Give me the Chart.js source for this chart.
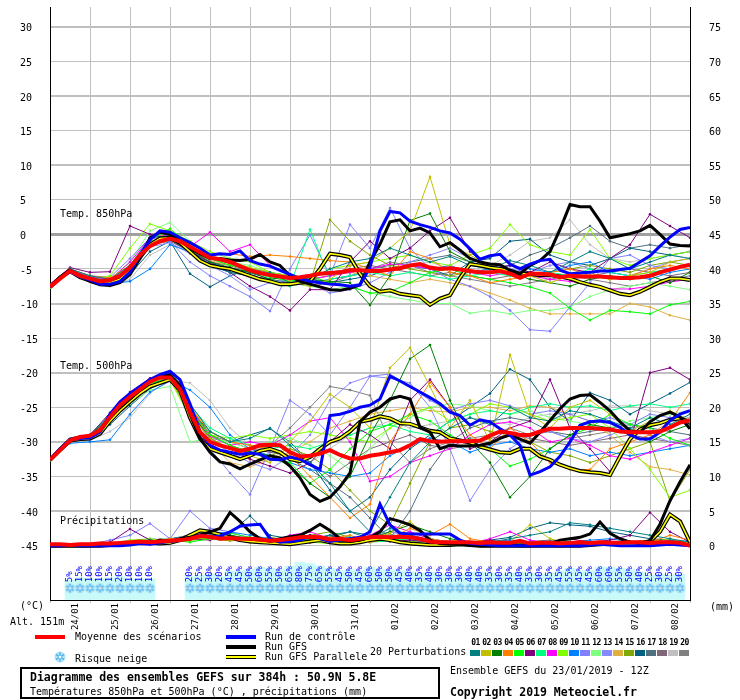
<!DOCTYPE html>
<html><head><meta charset="utf-8">
<script src="https://cdn.jsdelivr.net/npm/chart.js@4.4.1/dist/chart.umd.min.js"></script>
<style>
body{margin:0;background:#fff}
#wrap{position:relative;width:740px;height:700px;overflow:hidden;background:#fff}
#c{position:absolute;left:0;top:0}
.t{position:absolute;font-family:"DejaVu Sans Mono",monospace;font-size:10px;line-height:12px;white-space:nowrap;color:#000}
.b{font-weight:bold;font-size:11.5px;line-height:14px}
.sw{position:absolute}
</style></head><body>
<div id="wrap">
<canvas id="c" width="740" height="700"></canvas>
<div class="t" style="left:60px;top:208px">Temp. 850hPa</div>
<div class="t" style="left:60px;top:360px">Temp. 500hPa</div>
<div class="t" style="left:60px;top:515px">Précipitations</div>
<div class="t" style="left:20px;top:600px">(°C)</div>
<div class="t" style="left:10px;top:616px">Alt. 151m</div>
<div class="t" style="left:710px;top:601px">(mm)</div>
<div class="sw" style="left:35px;top:635px;width:30px;height:4px;background:#ff0000"></div>
<div class="t" style="left:75px;top:631px">Moyenne des scénarios</div>
<canvas id="legFlake" class="sw" width="12" height="12" style="left:54px;top:651px"></canvas>
<div class="t" style="left:75px;top:653px">Risque neige</div>
<div class="sw" style="left:226px;top:635px;width:30px;height:4px;background:#0000ff"></div>
<div class="t" style="left:265px;top:631px">Run de contrôle</div>
<div class="sw" style="left:226px;top:645px;width:30px;height:4px;background:#000"></div>
<div class="t" style="left:265px;top:641px">Run GFS</div>
<div class="sw" style="left:226px;top:655px;width:30px;height:4px;background:#000"></div>
<div class="sw" style="left:226px;top:656px;width:30px;height:2px;background:#ffff00"></div>
<div class="t" style="left:265px;top:651px">Run GFS Parallele</div>
<div class="t" style="left:370px;top:646px">20 Perturbations</div>
<div class="sw" style="left:20px;top:667px;width:416px;height:28px;border:2px solid #000"></div>
<div class="t b" style="left:30px;top:670px">Diagramme des ensembles GEFS sur 384h : 50.9N 5.8E</div>
<div class="t" style="left:30px;top:686px">Températures 850hPa et 500hPa (°C) , précipitations (mm)</div>
<div class="t" style="left:450px;top:665px">Ensemble GEFS du 23/01/2019 - 12Z</div>
<div class="t b" style="left:450px;top:685px">Copyright 2019 Meteociel.fr</div>
</div>
<script>
// ---------- DATA ----------
const HOURS = 384; // 23/01 12Z + 384h, first value at hour 0
const dateLabels = ['24/01','25/01','26/01','27/01','28/01','29/01','30/01','31/01','01/02','02/02','03/02','04/02','05/02','06/02','07/02','08/02'];
const tempTicks = [-45,-40,-35,-30,-25,-20,-15,-10,-5,0,5,10,15,20,25,30];
const precipTicks = [0,5,10,15,20,25,30,35,40,45,50,55,60,65,70,75];

// 6-hourly main runs (65 values)
const mean850 = [-7.6,-6.4,-5.3,-6.0,-6.4,-6.8,-6.6,-6.0,-4.8,-3.0,-1.7,-1.0,-0.6,-1.0,-1.8,-2.6,-3.4,-3.6,-4.0,-4.6,-5.2,-5.6,-5.9,-6.1,-6.3,-6.2,-6.0,-5.7,-5.6,-5.5,-5.2,-5.2,-5.3,-5.3,-5.1,-4.9,-4.5,-4.3,-4.8,-5.0,-4.9,-5.1,-5.3,-5.5,-5.5,-5.3,-5.7,-6.3,-5.7,-5.7,-5.8,-6.2,-6.0,-6.1,-6.1,-6.1,-6.2,-6.3,-6.3,-6.2,-6.0,-5.5,-5.1,-4.7,-4.4];
const ctrl850 = [-7.6,-6.3,-5.4,-6.1,-6.6,-7.2,-7.2,-6.8,-5.5,-3.0,-0.8,0.5,0.3,-0.5,-1.2,-2.0,-3.0,-2.8,-2.9,-2.4,-3.8,-4.3,-4.6,-5.2,-5.8,-6.4,-6.8,-7.0,-7.2,-7.3,-7.5,-7.3,-4.8,0.5,3.3,3.1,1.9,1.4,1.0,0.5,0.2,-0.7,-2.1,-3.6,-3.1,-2.9,-4.3,-5.0,-4.3,-3.8,-3.6,-5.2,-5.7,-5.6,-5.5,-5.3,-5.3,-5.1,-4.9,-4.0,-3.1,-1.7,-0.4,0.7,1.0];
const gfs850 = [-7.6,-6.2,-5.2,-6.0,-6.8,-7.3,-7.4,-7.0,-5.8,-3.5,-0.5,0.3,0.0,-0.8,-2.0,-2.8,-3.5,-3.5,-3.7,-3.8,-3.6,-2.9,-4.0,-4.5,-6.0,-6.8,-7.2,-7.6,-8.0,-8.1,-7.8,-7.3,-4.0,-1.4,1.8,2.1,0.5,0.9,0.2,-1.8,-1.2,-2.3,-3.5,-4.0,-4.3,-4.4,-5.2,-5.7,-4.5,-3.8,-2.5,0.7,4.3,4.0,4.0,1.9,-0.5,-0.2,0.1,0.5,1.3,0.0,-1.4,-1.6,-1.7];
const par850 = [-7.6,-6.3,-5.3,-6.2,-6.7,-7.1,-7.0,-6.5,-5.0,-3.3,-1.5,-0.6,-0.5,-1.2,-2.5,-3.8,-4.5,-4.8,-5.0,-5.5,-6.0,-6.5,-6.8,-7.2,-7.2,-7.0,-6.8,-5.0,-2.8,-3.0,-3.3,-5.7,-7.5,-8.3,-8.1,-8.6,-8.8,-9.0,-10.2,-9.3,-8.8,-6.3,-4.3,-4.5,-4.8,-5.0,-5.3,-5.7,-5.7,-5.9,-5.9,-6.1,-6.4,-6.9,-7.3,-7.6,-8.1,-8.6,-8.8,-8.3,-7.6,-6.9,-6.4,-6.4,-6.6];
const mean500 = [-32.6,-31.2,-29.8,-29.3,-29.1,-28.3,-26.4,-24.7,-23.5,-22.4,-21.3,-20.7,-20.7,-22.4,-25.7,-28.6,-30.0,-30.5,-30.9,-31.3,-31.0,-30.5,-30.4,-30.5,-31.5,-32.1,-32.0,-31.7,-31.2,-31.9,-32.4,-32.4,-32.0,-31.8,-31.5,-31.2,-30.5,-29.6,-29.9,-30.0,-29.9,-29.9,-29.9,-29.8,-29.1,-28.5,-28.7,-29.0,-29.0,-28.5,-28.1,-28.1,-28.0,-28.0,-28.0,-28.1,-28.2,-28.5,-28.6,-28.6,-28.6,-28.5,-27.9,-27.2,-26.9];
const ctrl500 = [-32.6,-31.0,-29.7,-29.5,-29.4,-28.6,-26.0,-24.2,-23.0,-22.0,-21.0,-20.3,-19.8,-21.0,-24.5,-28.5,-30.5,-31.2,-31.5,-31.8,-31.6,-31.8,-32.5,-32.6,-32.2,-32.5,-33.3,-34.0,-26.2,-26.0,-25.6,-25.0,-24.7,-23.8,-20.5,-21.2,-22.0,-22.8,-23.6,-24.5,-25.7,-26.2,-27.6,-26.8,-27.1,-28.1,-29.0,-30.5,-34.8,-34.3,-33.6,-32.1,-30.0,-27.6,-27.1,-27.0,-27.2,-27.9,-29.0,-29.6,-29.6,-28.6,-26.9,-26.0,-25.5];
const gfs500 = [-32.6,-31.0,-29.6,-29.3,-29.3,-28.5,-26.5,-25.0,-23.8,-22.5,-21.2,-20.5,-20.3,-21.8,-26.0,-29.5,-31.5,-32.9,-33.2,-33.9,-33.2,-32.6,-32.0,-32.3,-33.5,-35.2,-37.6,-38.6,-38.0,-36.5,-34.5,-27.1,-25.7,-25.0,-23.8,-23.4,-23.8,-27.9,-28.6,-31.0,-30.5,-30.6,-30.6,-30.5,-30.2,-29.5,-29.0,-29.6,-30.2,-28.6,-26.9,-25.2,-23.8,-23.3,-23.2,-24.3,-25.5,-27.1,-28.4,-28.6,-27.1,-26.2,-25.7,-26.4,-28.1];
const par500 = [-32.6,-31.2,-29.8,-29.6,-29.5,-28.8,-27.0,-25.5,-24.2,-23.0,-22.0,-21.5,-21.0,-22.5,-26.5,-29.5,-31.0,-31.5,-32.0,-32.5,-32.0,-31.3,-31.0,-31.5,-32.5,-32.8,-32.2,-31.0,-30.0,-29.5,-28.5,-27.1,-26.8,-26.3,-26.6,-27.3,-27.4,-27.9,-28.4,-28.6,-29.5,-29.8,-30.1,-30.7,-31.1,-31.5,-31.6,-31.0,-31.0,-32.1,-32.6,-33.3,-33.8,-34.2,-34.4,-34.5,-34.8,-32.1,-29.6,-28.2,-27.6,-27.3,-26.8,-26.6,-27.2];
const meanPrecip = [0.2,0.2,0.1,0.2,0.2,0.3,0.3,0.4,0.5,0.6,0.5,0.6,0.7,0.8,1.0,1.4,1.3,1.0,1.1,1.0,1.0,0.9,0.7,0.8,1.0,1.2,1.3,1.2,0.9,1.0,0.8,1.0,1.2,1.3,1.2,1.3,1.2,1.0,0.6,0.5,0.5,0.5,0.5,0.4,0.5,0.4,0.4,0.7,0.3,0.4,0.4,0.3,0.4,0.5,0.4,0.5,0.4,0.4,0.5,0.5,0.4,0.5,0.5,0.4,0.0];
const ctrlPrecip = [0,0,0.1,0,0,0,0,0,0.1,0.3,0.2,0.4,0.6,0.8,1.0,1.5,1.2,1.4,2.0,2.8,3.0,3.1,1.0,0.5,0.6,0.8,1.4,1.0,0.6,0.8,1.0,1.2,2.0,6.0,3.0,1.8,1.7,1.7,1.7,1.7,1.7,0.8,0.3,0.2,0.1,0,0,0,0,0,0,0,0,0,0.1,0.2,0.1,0,0,0,0,0.1,0.2,0.1,0];
const gfsPrecip = [0,0,0,0,0,0.1,0.2,0.2,0.3,0.5,0.3,0.8,0.6,1.0,1.2,1.5,2.0,2.5,4.8,3.5,2.0,1.0,0.6,1.0,1.3,1.5,2.2,3.1,2.2,1.0,0.6,0.8,1.2,2.0,3.9,3.5,3.0,2.2,0.8,0.3,0.2,0.2,0.1,0,0,0.1,0.2,0,0,0.1,0.3,0.8,1.0,1.2,1.7,3.4,1.8,1.0,0.5,0.3,0.7,3.1,6.5,9.2,11.7];
const parPrecip = [0,0,0,0,0,0,0.1,0.2,0.3,0.5,0.4,0.3,0.4,0.8,1.5,2.2,2.0,1.6,1.2,0.8,0.6,0.5,0.4,0.3,0.2,0.4,0.6,0.8,0.5,0.3,0.3,0.5,0.8,1.0,0.8,0.5,0.3,0.2,0.1,0.1,0.1,0.2,0.1,0,0,0,0,0,0,0,0,0,0,0,0.1,0.2,0.3,0.2,0.1,0.3,0.6,2.0,4.5,3.5,0.5];

// Snow risk (%), 6-hourly
const snowPct = [null,null,5,15,10,10,15,20,10,10,10,null,null,null,20,25,30,20,45,45,50,60,55,50,65,80,75,65,55,45,50,45,60,50,50,45,40,35,40,30,30,30,40,40,35,30,35,40,35,30,35,45,55,45,45,60,60,55,50,40,25,30,25,30,null];

// 20 perturbations, 12-hourly (33 values each)
const pertColors = ['#008080','#c0c000','#008000','#ff8000','#00ff00','#800080','#00ff80','#ff00ff','#80ff00','#0080ff','#8080ff','#80ff80','#8888ff','#e0b040','#80a800','#006080','#507080','#806878','#c0c0c0','#808080'];
const pert850 = [
[-7.4,-5.0,-6.0,-6.5,-4.5,-0.5,-0.2,-2.5,-4.5,-5.5,-6.0,-5.5,-7.0,-6.5,-5.0,-4.0,-3.5,-2.0,-3.0,-4.0,-3.2,-4.5,-5.0,-3.8,-4.5,-5.5,-4.0,-2.5,-3.5,-5.0,-4.0,-3.0,-3.5],
[-7.6,-5.4,-6.5,-7.0,-5.5,-1.2,0.5,-1.5,-3.5,-4.0,-4.8,-5.5,-6.8,-7.5,-6.5,-4.5,-4.0,-2.0,0.5,8.3,-1.5,-3.0,-4.5,-5.5,-6.0,-7.0,-6.0,-5.5,-6.5,-6.0,-5.5,-4.0,-3.5],
[-7.5,-5.3,-6.2,-6.9,-5.2,-1.5,-0.8,-2.2,-4.0,-4.8,-5.5,-6.5,-6.0,-6.5,-6.8,-7.0,-10.2,-6.0,2.0,3.0,-2.5,-4.0,-5.0,-5.5,-6.5,-7.0,-7.5,-6.5,-6.0,-6.5,-6.0,-7.0,-5.5],
[-7.3,-5.0,-6.0,-6.3,-4.5,-1.2,-0.5,-1.8,-3.0,-2.8,-3.2,-3.0,-3.2,-3.5,-3.8,-4.0,-5.0,-6.0,-2.5,-3.5,-5.5,-6.0,-7.0,-6.5,-6.0,-5.5,-5.0,-6.0,-6.5,-6.0,-5.0,-4.5,-5.0],
[-7.6,-5.2,-6.6,-7.2,-5.8,-0.8,0.8,-1.5,-3.5,-4.5,-5.0,-6.2,-6.8,-6.0,-7.0,-7.5,-8.5,-8.3,-7.0,-5.5,-5.0,-6.0,-6.5,-7.0,-7.6,-8.5,-10.7,-12.4,-11.0,-11.2,-11.5,-10.2,-9.7],
[-7.2,-4.8,-5.5,-5.4,1.2,0.0,-0.8,-2.5,-4.0,-5.5,-7.5,-9.0,-11.0,-8.0,-8.0,-4.0,-1.0,-3.5,-2.0,0.5,2.4,-2.5,-5.0,-4.5,-5.5,-4.0,-5.0,-5.5,-3.5,-1.5,2.9,1.2,-0.5],
[-7.5,-5.3,-6.4,-6.7,-4.8,-1.0,-0.5,-2.0,-3.5,-4.0,-4.8,-6.5,-7.5,0.7,-6.5,-6.0,-5.5,-6.0,-5.5,-6.0,-6.5,-6.0,-5.5,-6.0,-5.8,-5.5,-6.0,-5.0,-5.5,-6.0,-5.5,-5.0,-4.5],
[-7.5,-5.1,-6.2,-6.5,-4.0,-0.5,0.0,-1.8,0.3,-2.5,-1.5,-4.5,-6.0,-6.5,-6.0,-5.5,-5.0,-4.3,-4.5,-5.0,-4.8,-5.5,-6.0,-5.5,-6.0,-6.5,-6.8,-7.2,-7.9,-7.9,-7.5,-6.9,-6.5],
[-7.7,-5.4,-6.5,-6.0,-2.0,1.5,0.5,-1.0,-2.5,-3.5,-4.0,-5.5,-6.0,-6.5,-5.0,-4.5,-4.0,-3.5,-3.0,-4.0,-4.5,-3.0,-2.0,1.4,-1.5,-2.5,-3.0,0.7,-3.5,-4.5,-3.5,-3.0,-2.5],
[-7.6,-5.5,-6.6,-7.2,-6.8,-5.0,-1.5,-2.5,-4.0,-5.0,-5.5,-6.0,-6.5,-7.0,-6.5,-6.0,-5.5,-5.0,-4.5,-5.0,-4.5,-5.5,-5.0,-4.5,-5.0,-5.5,-4.5,-4.0,-5.5,-6.0,-6.5,-5.5,-5.0],
[-7.3,-5.0,-6.0,-6.2,-3.5,-0.5,-1.0,-4.0,-6.0,-7.5,-9.0,-11.1,-5.0,-0.1,-6.0,1.4,-2.0,3.8,-2.0,-5.0,-6.5,-7.5,-9.0,-11.0,-13.8,-14.0,-10.5,-7.0,-3.5,-3.0,-4.5,-5.0,-4.5],
[-7.5,-5.2,-6.3,-6.6,-4.0,0.5,1.7,-1.0,-3.0,-4.0,-4.5,-5.5,-7.0,-7.5,-8.0,-7.5,-8.5,-9.0,-9.5,-10.0,-10.0,-11.4,-11.0,-11.5,-11.0,-11.0,-10.5,-9.0,-8.0,-7.5,-7.0,-7.5,-8.0],
[-7.4,-5.1,-6.1,-6.4,-4.5,-1.8,-1.2,-2.8,-4.5,-6.0,-8.0,-7.0,-6.5,-7.0,-8.5,-8.0,-7.0,-5.5,-4.0,-3.0,-2.0,-3.5,-4.5,-5.0,-5.5,-4.5,-4.0,-5.0,-5.5,-6.0,-5.0,-4.0,-3.5],
[-7.5,-5.3,-6.4,-6.9,-5.3,-1.5,-0.8,-2.2,-3.8,-4.5,-5.0,-5.8,-6.0,-6.5,-6.0,-5.5,-6.0,-6.5,-7.0,-6.5,-7.0,-7.5,-8.5,-9.5,-10.7,-11.5,-11.5,-11.5,-11.5,-10.0,-10.5,-11.7,-12.4],
[-7.6,-5.4,-6.5,-6.8,-5.0,-1.0,-0.2,-1.8,-3.5,-4.2,-5.0,-6.0,-6.5,-7.0,2.1,-1.0,-3.0,-4.5,-5.0,-5.5,-6.0,-5.5,-5.0,-5.5,-6.0,-5.5,-5.0,-4.5,-5.0,-5.5,-4.5,-4.0,-4.5],
[-7.5,-5.3,-6.6,-7.3,-5.8,-2.5,-1.0,-5.7,-7.6,-6.0,-5.0,-5.5,-6.0,-6.5,-7.0,-6.5,-6.0,-5.0,-4.5,-5.0,-6.0,-4.0,-3.5,-1.0,-0.7,-3.0,-4.0,-4.5,-3.5,-2.0,-2.5,-3.0,-2.5],
[-7.4,-5.2,-6.1,-6.6,-4.8,-1.3,-0.7,-2.5,-4.2,-5.0,-5.5,-6.5,-7.0,-6.5,-6.0,-5.5,-5.0,-4.5,-4.0,-3.5,-3.0,-4.0,-5.0,-4.5,-3.0,-2.0,-0.5,1.2,-1.0,-2.0,-1.5,-2.0,-1.5],
[-7.5,-5.2,-6.3,-6.7,-5.0,-1.5,-1.0,-2.5,-4.0,-4.5,-5.5,-6.0,-6.5,-6.0,-5.5,-5.0,-4.5,-5.0,-5.5,-6.0,-5.5,-6.0,-6.5,-6.0,-5.5,-6.0,-6.5,-6.0,-5.5,-5.0,-5.5,-6.0,-5.5],
[-7.6,-5.5,-6.8,-7.5,-6.5,-3.0,-1.5,-2.5,-3.5,-4.5,-5.0,-6.0,-7.0,-7.5,-6.5,-6.0,-5.5,-5.0,-4.5,-4.0,-5.0,-5.5,-4.5,-3.0,-1.0,-0.5,2.1,-1.5,-3.5,-4.0,-3.5,-3.0,-3.5],
[-7.4,-5.1,-6.0,-6.5,-4.5,-1.0,-0.6,-2.3,-4.5,-5.5,-6.0,-6.5,-7.0,-7.5,-7.0,-6.0,-5.0,-4.0,-4.5,-5.5,-6.0,-6.5,-7.0,-7.5,-7.0,-6.5,-6.0,-6.5,-7.0,-7.5,-7.0,-6.5,-6.0]
];
const pert500 = [
[-32.6,-29.6,-29.0,-26.0,-23.2,-21.0,-20.3,-24.5,-28.5,-30.0,-29.5,-28.0,-30.5,-33.0,-36.0,-40.0,-43.0,-38.0,-33.0,-30.0,-28.0,-26.5,-27.5,-25.0,-26.5,-27.0,-25.5,-26.0,-27.0,-28.0,-26.5,-27.5,-26.0],
[-32.6,-29.9,-29.3,-26.8,-24.0,-21.8,-21.0,-26.0,-29.5,-31.0,-32.0,-33.0,-30.0,-27.0,-23.1,-25.0,-28.0,-19.3,-16.4,-22.0,-28.0,-24.0,-30.0,-17.4,-26.0,-28.0,-25.0,-24.0,-26.0,-28.5,-27.0,-25.5,-27.0],
[-32.6,-29.7,-29.1,-26.4,-23.4,-21.2,-20.4,-25.5,-29.5,-31.0,-31.5,-32.0,-33.5,-36.0,-38.0,-35.0,-29.0,-24.0,-18.0,-16.0,-24.0,-30.0,-33.0,-38.0,-35.0,-31.0,-29.0,-27.5,-28.0,-29.0,-30.0,-28.5,-27.5],
[-32.6,-29.8,-29.2,-26.6,-23.6,-21.4,-20.6,-25.0,-28.5,-30.0,-30.5,-31.0,-32.0,-35.0,-38.0,-41.0,-39.0,-30.0,-26.0,-21.4,-25.0,-29.0,-31.0,-28.0,-30.0,-33.0,-34.0,-34.0,-31.0,-30.0,-29.0,-27.0,-22.9],
[-32.6,-29.8,-29.4,-27.0,-24.0,-21.6,-20.8,-25.5,-29.0,-30.5,-31.5,-32.5,-33.0,-36.0,-34.0,-31.0,-28.5,-27.5,-26.0,-27.0,-29.0,-30.5,-31.0,-33.5,-32.5,-31.0,-29.0,-28.0,-26.0,-27.5,-28.0,-29.5,-30.5],
[-32.6,-29.7,-29.0,-25.8,-22.8,-20.8,-20.2,-25.5,-29.5,-31.0,-32.5,-33.5,-34.5,-33.0,-30.0,-27.5,-29.0,-31.0,-24.0,-21.0,-25.0,-31.0,-30.0,-28.0,-27.0,-21.0,-28.0,-31.0,-34.3,-30.0,-20.0,-19.3,-21.0],
[-32.6,-29.9,-29.3,-26.7,-23.7,-21.5,-20.7,-24.8,-28.0,-29.5,-30.5,-31.0,-30.5,-31.0,-30.0,-29.0,-28.0,-27.5,-28.5,-29.0,-27.0,-26.0,-25.5,-26.0,-25.0,-24.5,-25.0,-24.8,-25.5,-24.8,-24.5,-25.0,-24.5],
[-32.6,-29.8,-29.1,-26.5,-23.6,-21.2,-20.5,-25.2,-29.2,-30.5,-30.0,-30.5,-29.0,-27.0,-26.5,-30.0,-35.7,-35.0,-33.0,-32.0,-31.0,-29.0,-27.5,-27.1,-28.0,-30.0,-29.5,-30.5,-32.0,-32.5,-31.5,-30.5,-29.5],
[-32.6,-30.0,-29.5,-27.2,-24.2,-22.0,-21.0,-26.5,-29.0,-29.5,-29.0,-29.5,-29.0,-28.5,-29.0,-29.5,-30.0,-28.0,-26.0,-25.0,-27.0,-26.0,-24.5,-25.0,-26.0,-27.0,-26.5,-26.0,-28.0,-31.0,-34.0,-38.0,-37.0],
[-32.6,-30.2,-30.0,-29.7,-26.0,-22.8,-21.2,-22.5,-25.0,-29.0,-31.0,-32.0,-33.0,-34.0,-34.5,-35.0,-34.5,-32.0,-30.5,-29.5,-30.0,-31.5,-30.5,-30.0,-31.0,-31.5,-31.0,-32.0,-31.5,-32.0,-31.5,-31.0,-30.5],
[-32.6,-29.6,-28.9,-26.2,-23.0,-20.9,-20.1,-26.0,-31.0,-34.5,-37.6,-31.0,-24.0,-26.0,-29.0,-25.0,-20.5,-20.2,-22.0,-24.0,-25.5,-24.5,-24.0,-24.8,-26.0,-25.5,-26.0,-27.0,-26.5,-27.5,-26.0,-26.5,-27.0],
[-32.6,-29.9,-29.4,-27.0,-24.5,-22.5,-22.0,-30.0,-29.5,-30.0,-31.0,-30.0,-29.5,-30.5,-32.0,-34.0,-31.0,-28.0,-26.5,-25.0,-24.5,-24.8,-25.5,-26.0,-25.5,-26.5,-27.0,-27.5,-28.0,-27.0,-26.5,-26.0,-25.5],
[-32.6,-29.7,-29.2,-26.3,-23.3,-21.1,-20.4,-25.5,-29.8,-31.5,-33.0,-34.0,-32.0,-29.0,-24.0,-21.5,-20.5,-20.8,-21.5,-25.0,-31.0,-38.5,-34.0,-31.0,-29.0,-28.5,-29.5,-30.0,-29.0,-28.0,-29.0,-30.0,-29.5],
[-32.6,-29.8,-29.2,-26.6,-23.6,-21.3,-20.6,-25.5,-30.0,-33.0,-33.6,-32.5,-31.5,-30.0,-28.0,-27.0,-26.0,-25.5,-25.0,-25.5,-25.7,-25.0,-25.0,-25.5,-24.8,-25.0,-26.0,-27.0,-29.0,-31.5,-33.6,-34.0,-34.8],
[-32.6,-29.7,-29.1,-26.5,-23.5,-21.2,-20.5,-25.0,-29.0,-30.5,-31.5,-32.0,-31.0,-32.0,-34.0,-37.0,-40.0,-42.0,-36.0,-30.0,-28.0,-27.5,-28.5,-29.0,-30.0,-31.5,-32.0,-33.0,-32.0,-31.0,-30.0,-38.6,-34.0],
[-32.6,-30.0,-29.6,-27.5,-24.8,-22.3,-21.0,-25.5,-28.5,-30.0,-29.0,-28.1,-30.0,-33.0,-37.0,-40.0,-38.0,-34.0,-31.0,-29.0,-27.0,-25.0,-23.0,-19.5,-21.0,-25.0,-27.0,-22.9,-24.0,-26.0,-24.5,-23.0,-21.4],
[-32.6,-29.8,-29.3,-26.8,-23.8,-21.5,-20.8,-25.0,-29.0,-30.5,-31.5,-32.0,-32.5,-34.0,-36.0,-38.0,-41.0,-44.0,-40.0,-34.0,-30.0,-28.0,-27.0,-26.5,-27.0,-28.5,-29.0,-28.5,-28.0,-27.5,-28.0,-28.5,-29.0],
[-32.6,-29.7,-29.0,-26.4,-23.4,-21.2,-20.5,-25.0,-29.0,-30.0,-31.0,-31.5,-32.0,-33.0,-35.0,-33.0,-31.0,-30.0,-29.0,-30.5,-31.0,-30.5,-29.5,-29.0,-29.5,-30.0,-30.5,-30.0,-29.5,-29.0,-29.5,-30.0,-30.5],
[-32.6,-30.1,-29.8,-28.5,-26.5,-23.0,-21.0,-21.5,-24.0,-28.0,-30.5,-31.5,-32.0,-33.0,-31.0,-29.0,-28.0,-27.0,-28.0,-27.5,-27.0,-26.5,-27.0,-27.5,-26.5,-26.0,-26.0,-25.5,-24.8,-24.8,-25.5,-26.0,-26.5],
[-32.6,-29.8,-29.3,-26.7,-23.6,-21.4,-20.7,-25.0,-29.0,-30.5,-31.5,-30.5,-28.0,-25.0,-22.0,-22.5,-23.3,-30.0,-33.0,-31.0,-30.0,-29.5,-29.0,-28.0,-29.0,-28.5,-29.5,-29.0,-28.5,-28.0,-27.5,-27.0,-26.5]
];
const pertPrecip = [
[0,0,0,0.3,0.5,0.2,0.4,1.0,1.5,1.2,0.8,1.0,0.5,1.0,1.5,2.0,1.0,2.5,1.5,0.8,0.3,0.2,0.5,1.0,1.5,2.0,3.3,3.0,2.5,2.0,1.5,1.0,0.5],
[0,0,0.1,0.2,0.3,0.5,0.8,1.5,1.0,0.8,0.5,0.3,0.5,0.8,1.2,0.5,1.0,1.8,3.5,1.0,0.5,0.3,0.2,0.5,3.0,1.0,0.3,0.2,0.1,0.3,0.5,1.0,0.3],
[0,0,0,0.2,0.5,0.8,0.5,1.2,2.0,1.5,1.0,0.8,1.0,1.5,0.8,0.5,1.0,2.0,3.0,2.0,1.0,0.5,0.2,0.1,0.3,0.5,0.2,0.1,0.3,0.5,0.2,0.4,0.2],
[0,0,0.1,0.1,0.3,0.5,1.0,0.8,1.5,1.2,0.5,0.8,0.3,0.5,1.0,1.5,0.5,1.0,2.5,1.5,3.1,1.0,0.5,0.3,0.2,0.1,0.3,0.5,0.2,0.1,0.5,1.5,0.8],
[0,0,0,0.1,0.2,0.6,0.8,0.5,1.0,1.8,1.2,0.6,0.4,0.8,0.5,0.3,0.6,0.8,1.2,0.8,0.5,0.3,0.2,0.1,0.1,0.2,0.1,0.0,0.1,0.2,0.1,0.2,0.1],
[0,0,0.2,0.5,2.4,0.8,0.5,1.0,0.8,1.5,0.8,0.5,1.0,0.5,1.5,0.8,1.2,0.6,0.8,0.5,0.3,0.5,0.8,0.4,0.3,0.5,1.0,0.5,0.8,1.5,4.8,2.0,0.5],
[0,0,0,0.2,0.3,0.4,0.6,1.0,1.4,1.0,0.7,0.5,0.6,1.0,0.8,1.2,0.5,0.7,1.0,0.5,0.3,0.2,0.1,0.2,0.1,0.0,0.1,0.2,0.1,0.2,0.3,0.2,0.1],
[0,0,0.1,0.2,0.4,0.6,0.8,1.2,1.8,1.5,1.0,0.5,1.5,2.0,1.0,0.5,1.5,3.0,2.0,1.0,0.5,0.3,1.0,2.0,0.8,0.3,0.2,0.3,0.5,0.3,0.2,0.3,0.2],
[0,0,0,0.3,0.8,1.0,0.6,0.8,1.2,1.0,0.6,0.5,0.8,0.5,0.3,0.6,0.8,1.0,0.6,0.3,0.2,0.1,0.2,0.3,0.2,0.1,0.0,0.1,0.2,0.3,0.2,0.5,0.3],
[0,0,0,0.1,0.2,0.4,0.5,0.8,1.6,2.0,1.5,1.0,0.6,1.0,1.5,1.0,0.8,1.4,1.0,0.6,0.4,0.3,0.5,0.8,0.6,0.4,0.5,0.8,1.0,0.6,0.5,0.8,0.6],
[0,0,0.2,0.8,1.5,3.2,1.0,5.0,2.5,2.0,1.0,0.5,0.8,1.2,0.6,0.3,1.0,2.0,1.5,0.8,0.4,0.3,0.2,0.3,0.2,0.1,0.2,0.3,0.5,0.3,0.2,0.3,0.2],
[0,0,0,0.2,0.5,0.8,1.0,0.6,1.0,1.4,0.8,0.5,0.3,0.6,0.8,0.5,0.6,1.0,0.8,0.5,0.3,0.2,0.1,0.2,0.1,0.2,0.1,0.1,0.2,0.1,0.2,0.3,0.2],
[0,0,0.1,0.3,0.6,1.0,0.8,1.6,2.2,1.5,0.8,0.6,1.2,0.8,0.5,1.0,0.6,1.2,2.0,1.0,0.5,0.3,0.2,0.3,0.5,0.3,0.2,0.3,0.2,0.3,0.5,0.3,0.2],
[0,0,0,0.1,0.2,0.5,0.7,1.0,1.3,1.0,0.6,0.8,1.0,0.6,0.4,0.8,1.0,1.5,1.0,0.6,0.4,0.2,0.3,0.2,0.1,0.2,0.1,0.2,0.3,0.2,0.1,0.2,0.1],
[0,0,0.1,0.2,0.4,0.6,0.9,1.2,1.0,0.7,0.9,1.2,0.8,1.5,2.0,1.2,0.8,1.5,1.0,0.6,0.5,0.3,0.4,0.6,0.4,0.3,0.5,0.4,0.3,0.5,0.8,0.5,0.3],
[0,0,0.1,0.3,0.5,0.8,1.0,1.5,2.0,1.8,4.3,1.5,1.0,0.8,1.2,2.0,1.5,1.0,0.8,0.6,0.4,0.5,0.8,1.2,2.5,3.3,3.0,2.8,2.0,1.5,1.0,0.8,0.5],
[0,0,0,0.2,0.4,0.7,0.8,1.0,1.2,0.8,0.6,0.8,1.2,0.8,0.5,0.8,1.0,1.6,1.2,0.8,0.5,0.4,0.3,0.5,0.6,0.8,0.6,0.5,0.4,0.6,0.8,0.5,0.4],
[0,0,0.1,0.2,0.3,0.5,0.6,0.9,1.1,0.9,0.7,0.6,0.8,1.0,0.7,0.5,0.7,0.9,0.7,0.5,0.3,0.2,0.3,0.2,0.3,0.2,0.3,0.2,0.3,0.4,0.3,0.2,0.1],
[0,0,0,0.1,0.2,0.4,0.5,0.7,0.9,0.8,0.6,0.4,0.5,0.7,0.9,1.0,0.8,1.0,0.7,0.5,0.4,0.3,0.2,0.3,0.2,0.1,0.2,0.3,0.2,0.1,0.2,0.1,0.1],
[0,0,0.1,0.2,0.4,0.6,0.8,1.0,1.5,1.2,0.9,0.7,1.0,1.4,1.0,0.8,1.2,2.0,1.5,0.9,0.6,0.4,0.3,0.4,0.5,0.4,0.3,0.2,0.3,0.4,0.3,0.2,0.2]
];

// ---------- AXIS RANGES ----------
const Y_MIN = -370/7, Y_MAX = 230/7;   // temperature axis range (°C)
const PRECIP_OFFSET = 45;              // right axis 0 mm sits on -45 °C
const SNOW_MIN = -80.1, SNOW_MAX = 2451.5; // hidden axis for snow-risk strip
const SNOW_BASE = -78, FLAKE_LEVEL = -29.5;

// ---------- HELPERS ----------
function toPoints(arr){ const step = HOURS/(arr.length-1); return arr.map((v,i)=>({x:i*step, y:v})); }
function lineDs(arr, color, width, order, axis, markers){
  return {type:'line', data: toPoints(arr), borderColor: color, backgroundColor: color,
    borderWidth: width, pointRadius: markers ? 1.3 : 0, pointHoverRadius: 0, pointBorderWidth: 0,
    pointBackgroundColor: color, tension: 0, fill: false, order: order, yAxisID: axis};
}
function makeFlake(size){
  const c = document.createElement('canvas'); c.width = c.height = size;
  const g = c.getContext('2d'); const r = size/2;
  g.fillStyle = '#aee3f8'; g.beginPath(); g.arc(r, r, r-0.5, 0, Math.PI*2); g.fill();
  g.strokeStyle = '#3fa9e6'; g.lineWidth = 1.2;
  for (let k=0;k<3;k++){ const a = k*Math.PI/3+Math.PI/6;
    g.beginPath(); g.moveTo(r+Math.cos(a)*(r-1.2), r+Math.sin(a)*(r-1.2));
    g.lineTo(r-Math.cos(a)*(r-1.2), r-Math.sin(a)*(r-1.2)); g.stroke(); }
  g.fillStyle = '#ffffff'; g.beginPath(); g.arc(r, r, 1.3, 0, Math.PI*2); g.fill();
  return c;
}
const flake = makeFlake(11);
document.getElementById('legFlake').getContext('2d').drawImage(makeFlake(12),0,0);

// legend color squares + numbers
const wrap = document.getElementById('wrap');
pertColors.forEach((col,j)=>{
  const b = document.createElement('div');
  b.style.cssText = 'position:absolute;left:'+(470+11*j)+'px;top:650px;width:10px;height:6px;background:'+col;
  wrap.appendChild(b);
  const n = document.createElement('div'); n.className = 't';
  n.style.cssText = 'left:'+(470+11*j)+'px;top:639px;width:11px;text-align:center;font-size:8px;line-height:8px;font-weight:bold;letter-spacing:-0.5px';
  n.textContent = String(j+1).padStart(2,'0');
  wrap.appendChild(n);
});

// ---------- DATASETS ----------
const datasets = [];
[[mean850,'y'],[mean500,'y'],[meanPrecip,'y2']].forEach(([a,ax])=>datasets.push(lineDs(a,'#ff0000',4,0,ax,false)));
[[ctrl850,'y'],[ctrl500,'y'],[ctrlPrecip,'y2']].forEach(([a,ax])=>datasets.push(lineDs(a,'#0000ff',3,1,ax,false)));
[[gfs850,'y'],[gfs500,'y'],[gfsPrecip,'y2']].forEach(([a,ax])=>datasets.push(lineDs(a,'#000000',3,2,ax,false)));
[[par850,'y'],[par500,'y'],[parPrecip,'y2']].forEach(([a,ax])=>{
  datasets.push(lineDs(a,'#ffff00',1.6,3,ax,false));
  datasets.push(lineDs(a,'#000000',4,4,ax,false));
});
pertColors.forEach((col,j)=>{
  datasets.push(lineDs(pert850[j],col,1,10+j,'y',true));
  datasets.push(lineDs(pert500[j],col,1,10+j,'y',true));
  datasets.push(lineDs(pertPrecip[j],col,1,10+j,'y2',true));
});
const snowPts = snowPct.map((p,i)=>p==null?null:{x:i*6, p:p}).filter(Boolean);
datasets.push({type:'bar', data: snowPts.map(s=>({x:s.x, y:[SNOW_BASE, s.p]})), backgroundColor:'#c8fafa',
  borderWidth:0, barPercentage:1, categoryPercentage:1, yAxisID:'ys', order:200});
datasets.push({type:'line', data: snowPts.map(s=>({x:s.x, y:FLAKE_LEVEL})), showLine:false,
  pointStyle: flake, pointRadius: 6, pointHoverRadius: 0, yAxisID:'ys', order:150});

// ---------- PLUGIN: snow % labels ----------
const snowLabels = {
  id:'snowLabels',
  afterDatasetsDraw(chart){
    const xs = chart.scales.x, ys = chart.scales.ys, ctx = chart.ctx;
    const base = ys.getPixelForValue(0) + 1;
    ctx.save();
    ctx.font = '9px "DejaVu Sans Mono"'; ctx.fillStyle = '#0000ff';
    ctx.textAlign = 'left'; ctx.textBaseline = 'middle';
    snowPts.forEach(s=>{
      const x = xs.getPixelForValue(s.x);
      ctx.save(); ctx.translate(x, base); ctx.rotate(-Math.PI/2);
      ctx.fillText(s.p+'%', 0, 0); ctx.restore();
    });
    ctx.restore();
  }
};

const tickFont = {family:'DejaVu Sans Mono', size:10};
new Chart(document.getElementById('c'), {
  type:'line',
  data:{datasets},
  plugins:[snowLabels],
  options:{
    responsive:false, animation:false, devicePixelRatio:1, events:[],
    layout:{padding:{left:20, right:0, top:0, bottom:0}},
    plugins:{legend:{display:false}, tooltip:{enabled:false}},
    scales:{
      x:{type:'linear', min:0, max:HOURS, offset:false,
        afterBuildTicks: s=>{ s.ticks = dateLabels.map((d,i)=>({value:12+24*i})); },
        afterFit: s=>{ s.height = 100; s.paddingLeft = 0; s.paddingRight = 0; },
        ticks:{autoSkip:false, minRotation:90, maxRotation:90, padding:0, labelOffset:6, color:'#000',
          font:{family:'DejaVu Sans Mono', size:9}, callback:(v,i)=>dateLabels[i]},
        grid:{color:'#c0c0c0', lineWidth:1, drawTicks:true, tickLength:3, tickColor:'#c0c0c0'},
        border:{display:true, color:'#000', width:1}
      },
      y:{type:'linear', position:'left', min:Y_MIN, max:Y_MAX,
        afterBuildTicks: s=>{ s.ticks = tempTicks.map(v=>({value:v})); },
        afterFit: s=>{ s.width = 30; s.paddingTop = 0; s.paddingBottom = 0; },
        ticks:{autoSkip:false, crossAlign:'far', padding:0, labelOffset:2, color:'#000', font:tickFont, callback:v=>String(v)},
        grid:{drawTicks:false,
          color: c=> (c.tick && c.tick.value===0) ? '#a0a0a0' : '#c0c0c0',
          lineWidth: c=> c.tick ? (c.tick.value===0 ? 3 : (c.tick.value%10===0 ? 2 : 1)) : 1},
        border:{display:true, color:'#000', width:1}
      },
      y2:{type:'linear', position:'right', min:Y_MIN+PRECIP_OFFSET, max:Y_MAX+PRECIP_OFFSET,
        afterBuildTicks: s=>{ s.ticks = precipTicks.map(v=>({value:v})); },
        afterFit: s=>{ s.width = 50; s.paddingTop = 0; s.paddingBottom = 0; },
        ticks:{autoSkip:false, padding:19, labelOffset:2, color:'#000', font:tickFont, callback:v=>String(v)},
        grid:{display:false, drawTicks:false},
        border:{display:true, color:'#000', width:1}
      },
      ys:{type:'linear', display:false, min:SNOW_MIN, max:SNOW_MAX}
    }
  }
});
</script>
</body></html>
